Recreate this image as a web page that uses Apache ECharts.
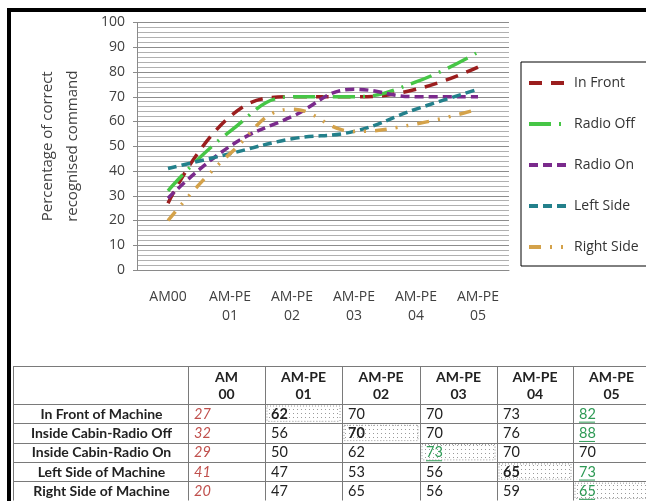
<!DOCTYPE html>
<html><head><meta charset="utf-8">
<script src="https://cdn.jsdelivr.net/npm/echarts@6/dist/echarts.min.js"></script>
<style>html,body{margin:0;padding:0;background:#fff}#c{width:646px;height:501px}</style>
</head><body><div id="c"></div>
<script>
// ---- data ----
const categories = ['AM00', 'AM-PE\n01', 'AM-PE\n02', 'AM-PE\n03', 'AM-PE\n04', 'AM-PE\n05'];
const tableHeaders = ['AM\n00', 'AM-PE\n01', 'AM-PE\n02', 'AM-PE\n03', 'AM-PE\n04', 'AM-PE\n05'];
const seriesNames = ['In Front', 'Radio Off', 'Radio On', 'Left Side', 'Right Side'];
const rowLabels = ['In Front of Machine', 'Inside Cabin-Radio Off', 'Inside Cabin-Radio On', 'Left Side of Machine', 'Right Side of Machine'];
const inFront   = [27, 62, 70, 70, 73, 82];
const radioOff  = [32, 56, 70, 70, 76, 88];
const radioOn   = [29, 50, 62, 73, 70, 70];
const leftSide  = [41, 47, 53, 56, 65, 73];
const rightSide = [20, 47, 65, 56, 59, 65];
const yMin = 0, yMax = 100, yInterval = 10;
const yAxisTitle = 'Percentage of correct\nrecognised command';

// ---- cell emphasis in the table (row, col) ----
const dottedCells = [[0,1],[1,2],[2,3],[3,4],[4,5]];
const boldCells = [[0,1],[1,2],[3,4]];
const greenCells = [[0,5],[1,5],[2,3],[3,5],[4,5]];

// ---- styles ----
const allSeries = [inFront, radioOff, radioOn, leftSide, rightSide];
const colors = ['#9B1E1E', '#46C646', '#7A2A8C', '#23808B', '#D4A24A'];
const dashes = [[13, 9], [22, 8, 2, 8], [9, 5], [9, 5], [12, 9, 2, 9, 2, 9]];

const chart = echarts.init(document.getElementById('c'), null, {renderer: 'canvas'});

function has(list, r, c) { return list.some(p => p[0] === r && p[1] === c); }

// dotted pattern
const pc = document.createElement('canvas');
pc.width = 4; pc.height = 4;
const pctx = pc.getContext('2d');
pctx.fillStyle = '#fff'; pctx.fillRect(0, 0, 4, 4);
pctx.fillStyle = '#9a9a9a'; pctx.fillRect(1, 1, 1, 1);

const colX = [13, 188, 265, 342, 420, 497, 573, 650];
const rowY = [366, 404, 423.3, 442.6, 461.9, 481.2, 500.5];
const tFont = 'Lato, "Open Sans", sans-serif';
const graphics = [];

// borders of the picture
graphics.push({type: 'rect', shape: {x: 7, y: 8, width: 640, height: 4}, style: {fill: '#000'}, z: 100});
graphics.push({type: 'rect', shape: {x: 7, y: 8, width: 4, height: 494}, style: {fill: '#000'}, z: 100});

// highlighted cells
dottedCells.forEach(([r, c]) => {
  const x0 = colX[c + 1], x1 = colX[c + 2], y0 = rowY[r + 1], y1 = rowY[r + 2];
  graphics.push({type: 'rect', shape: {x: x0 + 2, y: y0 + 2, width: x1 - x0 - 4, height: y1 - y0 - 4},
    style: {fill: {image: pc, repeat: 'repeat'}, stroke: '#9a9a9a', lineWidth: 1, lineDash: [1, 2]}, z: 10});
});
// grid lines of the table
rowY.forEach(y => graphics.push({type: 'line', shape: {x1: colX[0], y1: Math.round(y) + 0.5, x2: colX[colX.length - 1], y2: Math.round(y) + 0.5},
  style: {stroke: '#7a7a7a', lineWidth: 1}, z: 11}));
colX.forEach(x => graphics.push({type: 'line', shape: {x1: x + 0.5, y1: rowY[0], x2: x + 0.5, y2: rowY[rowY.length - 1]},
  style: {stroke: '#7a7a7a', lineWidth: 1}, z: 11}));
// headers
tableHeaders.forEach((h, c) => {
  graphics.push({type: 'text', x: (colX[c + 1] + colX[c + 2]) / 2, y: (rowY[0] + rowY[1]) / 2 + 0.5,
    style: {text: h, font: 'bold 14px ' + tFont, fill: '#222', align: 'center', verticalAlign: 'middle', lineHeight: 17}, z: 12});
});
// rows
rowLabels.forEach((lab, r) => {
  const yc = (rowY[r + 1] + rowY[r + 2]) / 2;
  graphics.push({type: 'text', x: (colX[0] + colX[1]) / 2 + 1, y: yc + 0.5,
    style: {text: lab, font: 'bold 14px ' + tFont, fill: '#222', align: 'center', verticalAlign: 'middle'}, z: 12});
  allSeries[r].forEach((v, c) => {
    const x = colX[c + 1] + 6;
    let fill = '#222', font = '14.5px ' + tFont;
    if (c === 0) { fill = '#C0504D'; font = 'italic 14.5px ' + tFont; }
    if (has(boldCells, r, c)) font = 'bold 14.5px ' + tFont;
    if (has(greenCells, r, c)) fill = '#2E9A55';
    graphics.push({type: 'text', x: x, y: yc + 0.5,
      style: {text: String(v), font: font, fill: fill, align: 'left', verticalAlign: 'middle'}, z: 12});
    if (has(greenCells, r, c)) {
      graphics.push({type: 'line', shape: {x1: x, y1: yc + 8.5, x2: x + 16, y2: yc + 8.5},
        style: {stroke: '#2E9A55', lineWidth: 1}, z: 12});
    }
  });
});

const option = {
  animation: false,
  backgroundColor: '#fff',
  grid: {left: 137, right: 137, top: 22.5, bottom: 231, containLabel: false},
  legend: {
    orient: 'vertical', left: 521, top: 62,
    itemWidth: 40, itemHeight: 14, itemGap: 27,
    padding: [14, 40, 12, 6],
    borderColor: '#000', borderWidth: 1,
    itemStyle: {opacity: 0},
    lineStyle: {width: 4},
    textStyle: {fontSize: 14, color: '#333', fontFamily: '"Open Sans", sans-serif'},
    data: seriesNames
  },
  xAxis: {
    type: 'category', data: categories, boundaryGap: true,
    axisLine: {lineStyle: {color: '#8a8a8a'}},
    axisTick: {alignWithLabel: true, length: 5, lineStyle: {color: '#8a8a8a'}},
    axisLabel: {interval: 0, fontSize: 14, color: '#404040', lineHeight: 19, margin: 18, fontFamily: '"Open Sans", sans-serif'}
  },
  yAxis: {
    type: 'value', min: yMin, max: yMax, interval: yInterval,
    name: yAxisTitle, nameLocation: 'middle', nameRotate: 90, nameGap: 52,
    nameTextStyle: {fontSize: 15, color: '#404040', lineHeight: 25, fontFamily: '"Open Sans", sans-serif'},
    axisLine: {show: true, lineStyle: {color: '#8a8a8a'}},
    axisTick: {show: true, length: 4, lineStyle: {color: '#8a8a8a'}},
    axisLabel: {fontSize: 14, color: '#404040', margin: 12, fontFamily: '"Open Sans", sans-serif'},
    splitLine: {lineStyle: {color: '#8c8c8c'}},
    minorTick: {show: false, splitNumber: 5},
    minorSplitLine: {show: true, lineStyle: {color: '#b0b0b0'}}
  },
  series: seriesNames.map((n, i) => ({
    name: n, type: 'line', data: allSeries[i], smooth: 0.45,
    symbol: 'none', showSymbol: false,
    lineStyle: {color: colors[i], width: 3.5, type: dashes[i]},
    itemStyle: {color: colors[i]}
  })),
  graphic: graphics
};
chart.setOption(option);
</script></body></html>
